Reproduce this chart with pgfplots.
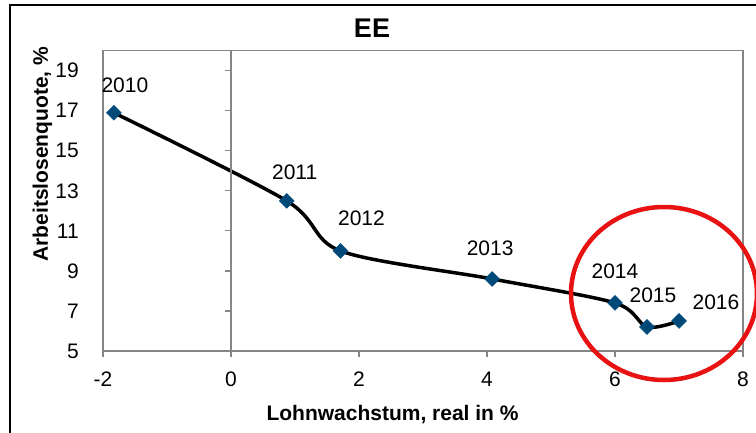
\documentclass[border=0pt]{standalone}
\usepackage{pgfplots}
\pgfplotsset{compat=1.18}
\usepackage{fontspec}
\setmainfont{Liberation Sans}
\definecolor{axgray}{RGB}{134,134,134}
\definecolor{mk}{RGB}{0,74,122}
\definecolor{ring}{RGB}{232,18,18}

\pgfplotstableread{
x     y     lab   lx   ly
-1.83 16.9  2010  11   27
0.87  12.5  2011  8    29
1.71  10.0  2012  21   33
4.08  8.6   2013  -2   31
6.0   7.4   2014  0    32
6.5   6.2   2015  6    32
7.0   6.5   2016  37   19
}\eedata

\begin{document}
\begin{tikzpicture}
\path[use as bounding box, clip] (-103pt,-81pt) rectangle (653pt,351pt);
% outer chart border
\draw[black, line width=2pt] (-93pt,-120pt) rectangle (700pt,346pt);

\begin{axis}[
  name=ax, at={(0,0)}, anchor=south west,
  scale only axis, width=640pt, height=300.3pt,
  xmin=-2, xmax=8, ymin=5, ymax=20,
  xtick={-2,0,...,8}, ytick={5,7,...,19},
  axis line style={axgray, line width=1.2pt},
  xtick pos=left, tick align=outside, major tick length=6pt,
  x tick style={axgray, line width=1.2pt},
  y tick style={draw=none},
  tick label style={font=\fontsize{21}{25}\selectfont},
  /pgf/number format/assume math mode=true,
  xticklabel style={inner sep=0pt, yshift=-15pt},
  yticklabel style={inner sep=0pt, xshift=-18pt},
  clip=false,
]
\addplot[black, line width=3.5pt, smooth, tension=0.5, no marks] table[x=x,y=y] {\eedata};
\addplot[only marks, mark=square*, mark size=5.3pt,
  mark options={rotate=45, fill=mk, draw=mk},
  point meta=explicit symbolic,
  visualization depends on={\thisrow{lx} \as \lx},
  visualization depends on={\thisrow{ly} \as \ly},
  nodes near coords,
  every node near coord/.append style={anchor=center, inner sep=0pt,
    xshift=\lx pt, yshift=\ly pt, font=\fontsize{21}{25}\selectfont, text=black},
] table[x=x,y=y,meta=lab] {\eedata};
\end{axis}

% vertical axis at x = 0 with its ticks
\draw[axgray, line width=1.5pt] (128pt,0pt) -- (128pt,300.3pt);
\foreach \i in {0,...,7} \draw[axgray, line width=1.2pt] (128pt,\i*40.04pt) -- ++(-6pt,0pt);

% titles
\node[anchor=base, font=\bfseries\fontsize{27}{32}\selectfont] at (269pt,314pt) {EE};
\node[anchor=base west, font=\bfseries\fontsize{21}{25}\selectfont] at (160pt,-69pt) {Lohnwachstum, real in \%};
\node[rotate=90, anchor=base west, font=\bfseries\fontsize{21}{25}\selectfont] at (-55pt,86pt) {Arbeitslosenquote, \%};

% red ring
\draw[ring, line width=4.5pt] (561pt,57.5pt) ellipse [x radius=93pt, y radius=86.5pt];
\end{tikzpicture}
\end{document}
